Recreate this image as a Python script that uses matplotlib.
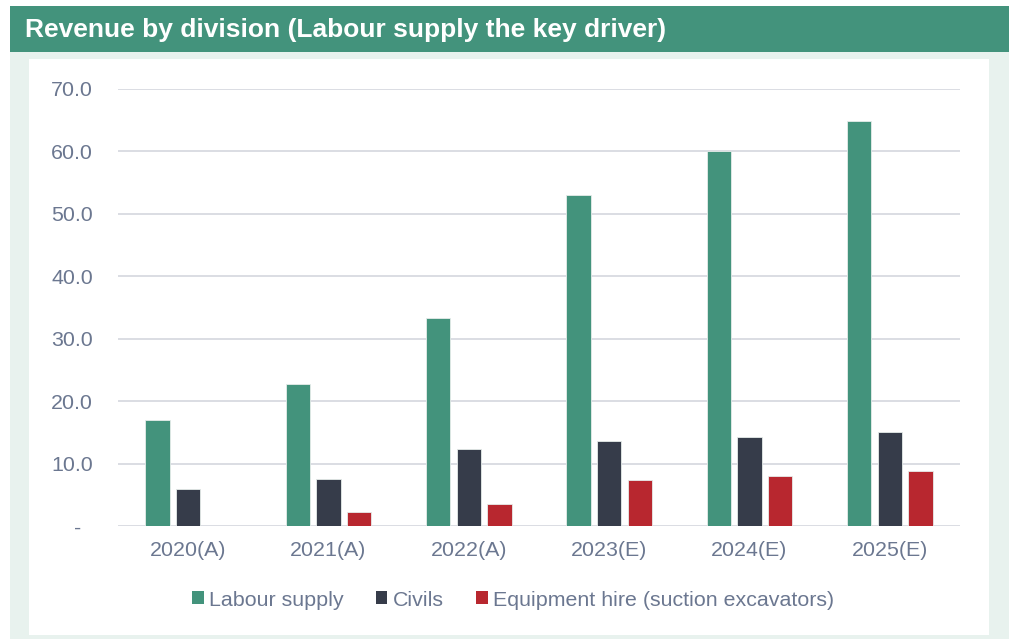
import matplotlib
matplotlib.use("Agg")
import matplotlib.pyplot as plt
import numpy as np
from matplotlib.patches import Rectangle, Patch

plt.rcParams['font.family'] = ['Liberation Sans', 'DejaVu Sans']

years = ["2020(A)", "2021(A)", "2022(A)", "2023(E)", "2024(E)", "2025(E)"]
labour_supply = [17.0, 22.8, 33.3, 53.1, 60.0, 64.9]
civils = [5.9, 7.6, 12.3, 13.6, 14.2, 15.0]
equipment_hire = [0.0, 2.2, 3.6, 7.3, 8.0, 8.8]
series_names = ["Labour supply", "Civils", "Equipment hire (suction excavators)"]
yticks = [0, 10, 20, 30, 40, 50, 60, 70]

GREEN = "#43937c"
DARK = "#363c4a"
RED = "#b8272f"
TEXT = "#6b7790"
GRID = "#dadde3"
PANEL_BG = "#e8f2ee"
FS = 15.4

W, H = 1014, 639
fig = plt.figure(figsize=(W / 100, H / 100), dpi=100)
fig.patch.set_facecolor("white")


def px_rect(x0, y0, x1, y1, color, z=0):
    fig.add_artist(Rectangle((x0 / W, 1 - y1 / H), (x1 - x0) / W, (y1 - y0) / H,
                             transform=fig.transFigure, facecolor=color,
                             edgecolor="none", zorder=z))


# header band, tinted frame and white chart panel
px_rect(10, 6, 1009, 52, GREEN)
px_rect(10, 52, 1009, 639, PANEL_BG)
px_rect(29, 59, 989, 635, "white")

fig.text(25 / W, 1 - 30 / H, "Revenue by division (Labour supply the key driver)",
         color="white", fontsize=19, fontweight="bold", ha="left", va="center")

ax = fig.add_axes([118 / W, 1 - 526 / H, (960 - 118) / W, (526 - 89) / H])
ax.set_facecolor("none")

x = np.arange(len(years))
bw = 0.172
step = 0.219
for i, (vals, col) in enumerate(zip([labour_supply, civils, equipment_hire],
                                    [GREEN, DARK, RED])):
    ax.bar(x + (i - 1) * step, vals, width=bw, color=col, edgecolor="#e6ecea",
           linewidth=0.6, zorder=3)

ax.set_xlim(-0.5, len(years) - 0.5)
ax.set_ylim(0, 70)
ax.set_yticks(yticks)
ax.set_yticklabels(["-  " if v == 0 else f"{v:.1f}" for v in yticks])
ax.set_xticks(x)
ax.set_xticklabels(years)
ax.grid(axis="y", color=GRID, linewidth=1.4, zorder=0)
ax.set_axisbelow(True)
for s in ax.spines.values():
    s.set_visible(False)
ax.tick_params(axis="both", length=0, labelsize=FS, colors=TEXT)
ax.tick_params(axis="y", pad=18)
ax.tick_params(axis="x", pad=11)

handles = [Patch(facecolor=c, edgecolor="none") for c in (GREEN, DARK, RED)]
fig.legend(handles, series_names, loc="center", bbox_to_anchor=(513 / W, 1 - 600 / H),
           ncol=3, frameon=False, fontsize=FS, labelcolor=TEXT,
           handlelength=0.55, handleheight=0.55, handletextpad=0.25,
           columnspacing=1.5)

fig.savefig("out.png", dpi=100, facecolor="white")
